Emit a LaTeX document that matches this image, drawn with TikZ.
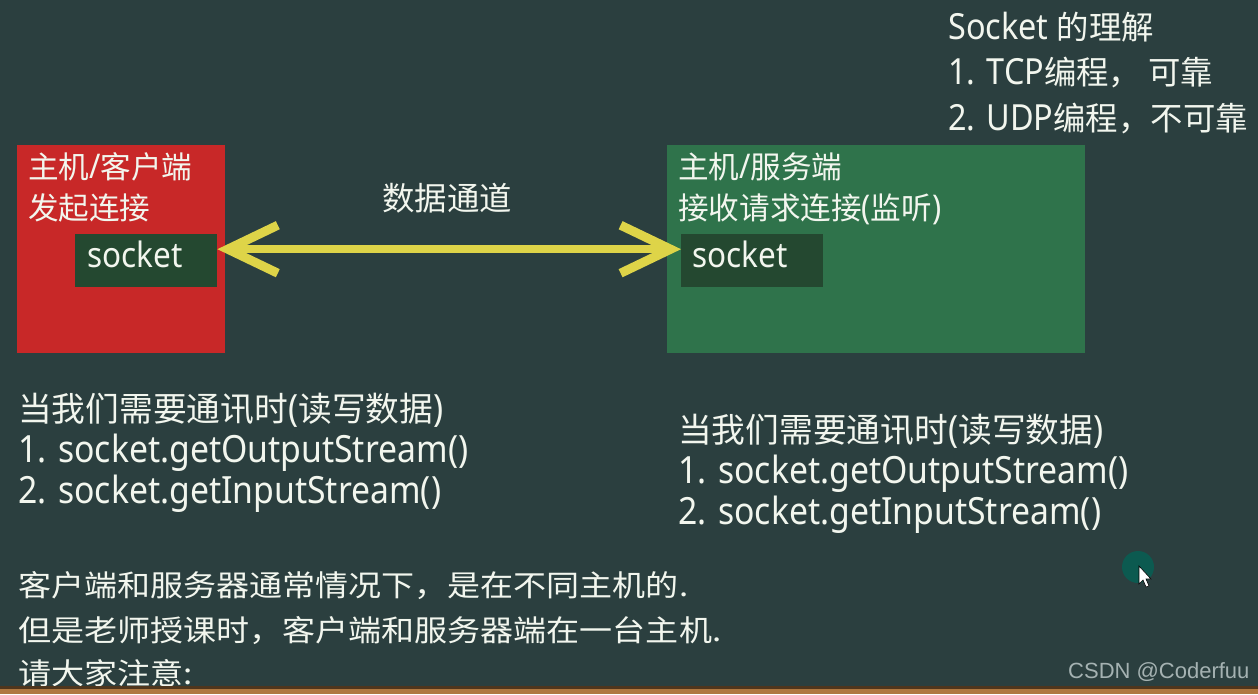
\documentclass[tikz,border=0pt]{standalone}
\usepackage{fontspec}
\setmainfont[FakeStretch=0.9]{Noto Sans}
\newfontfamily\cjk[Scale=0.9]{Noto Sans CJK SC}
\newfontfamily\cjkwide[FakeStretch=1.12]{Noto Sans CJK SC}
\newfontfamily\wmfont{Liberation Sans}
\newcommand\zh[1]{{\cjk #1}}
\newcommand\fs[1]{\fontsize{#1}{#1}\selectfont}
\usetikzlibrary{arrows.meta}
\definecolor{board}{RGB}{43,63,63}
\definecolor{clientred}{RGB}{200,40,40}
\definecolor{servergreen}{RGB}{47,115,75}
\definecolor{sockgreen}{RGB}{36,72,48}
\definecolor{chanyellow}{RGB}{222,212,72}
\definecolor{chalk}{RGB}{242,246,238}
\definecolor{wmgray}{RGB}{165,178,178}
\definecolor{wood}{RGB}{176,120,64}
\definecolor{cursorteal}{RGB}{12,90,80}
\begin{document}
\begin{tikzpicture}[x=1pt,y=-1pt,
  txt/.style={inner sep=0pt, anchor=base west, text=chalk},
  hostbox/.style={draw=none, inner sep=0pt, anchor=north west},
  sockbox/.style={fill=sockgreen, inner sep=0pt, anchor=north west, minimum width=142pt, minimum height=53pt},
  chan/.style={draw=chanyellow, line width=8pt,
    {Straight Barb[length=50pt,width=48pt,line width=9pt]}-{Straight Barb[length=50pt,width=48pt,line width=9pt]}},
]
\fill[board] (0,0) rectangle (1258,694);
\useasboundingbox (0,0) rectangle (1258,694);

% hosts
\node[hostbox, fill=clientred, minimum width=208pt, minimum height=208pt] (client) at (17,145) {};
\node[hostbox, fill=servergreen, minimum width=418pt, minimum height=208pt] (server) at (667,145) {};
\node[sockbox] (cs) at (75,234) {};
\node[sockbox] (ss) at (681,234) {};
\node[txt, font=\fs{35}] (cst) at ([xshift=12pt,yshift=-33pt]cs.north west) {socket};
\node[txt, font=\fs{35}] (sst) at ([xshift=11pt,yshift=-33pt]ss.north west) {socket};

\node[txt, font=\fs{34}] (ct1) at (28,178) {\zh{主机}/\zh{客户端}};
\node[txt, font=\fs{34}] (ct2) at (28,219) {\zh{发起连接}};
\node[txt, font=\fs{34}] (st1) at (678,178) {\zh{主机}/\zh{服务端}};
\node[txt, font=\fs{34}] (st2) at (678,219) {\zh{接收请求连接}(\zh{监听})};

% channel
\draw[chan] ([yshift=11.5pt]cs.east) -- ([yshift=11.5pt]ss.west);
\node[txt, font=\fs{36}] (chl) at (382,210) {\zh{数据通道}};

% top right
\node[txt, font=\fs{36}] (h1) at (948,39) {Socket \zh{的理解}};
\node[txt, font=\fs{36}] (h2) at (948,84) {1. TCP\zh{编程， 可靠}};
\node[txt, font=\fs{36}] (h3) at (948,130) {2. UDP\zh{编程，不可靠}};

% left notes
\node[txt, font=\fs{37.5}] (l1) at (18,421) {\zh{当我们需要通讯时}(\zh{读写数据})};
\node[txt, font=\fs{37.5}] (l2) at (18,462) {1. socket.getOutputStream()};
\node[txt, font=\fs{37.5}] (l3) at (18,503) {2. socket.getInputStream()};
% right notes
\node[txt, font=\fs{37.5}] (r1) at (678,442) {\zh{当我们需要通讯时}(\zh{读写数据})};
\node[txt, font=\fs{37.5}] (r2) at (678,483) {1. socket.getOutputStream()};
\node[txt, font=\fs{37.5}] (r3) at (678,524) {2. socket.getInputStream()};

% bottom notes
\node[txt, font=\cjkwide\fs{29.5}] (b1) at (18,596) {客户端和服务器通常情况下，是在不同主机的.};
\node[txt, font=\cjkwide\fs{29.5}] (b2) at (18,641) {但是老师授课时，客户端和服务器端在一台主机.};
\node[txt, font=\cjkwide\fs{29.5}] (b3) at (18,684) {请大家注意:};

% watermark
\node[txt, text=wmgray, font=\wmfont\fs{22}] (wm) at (1068,678) {CSDN @Coderfuu};

% cursor
\fill[cursorteal] (1138,567) circle (16pt);
\filldraw[fill=white, draw=black, line width=0.6pt]
  (1139,566) -- (1139,584) -- (1143,580) -- (1146,587) -- (1149,586) -- (1146,579) -- (1151,579) -- cycle;

% wooden ledge
\fill[black!55!wood] (0,686) rectangle (1258,688.5);
\fill[wood] (0,688.5) rectangle (1258,694);
\end{tikzpicture}
\end{document}
